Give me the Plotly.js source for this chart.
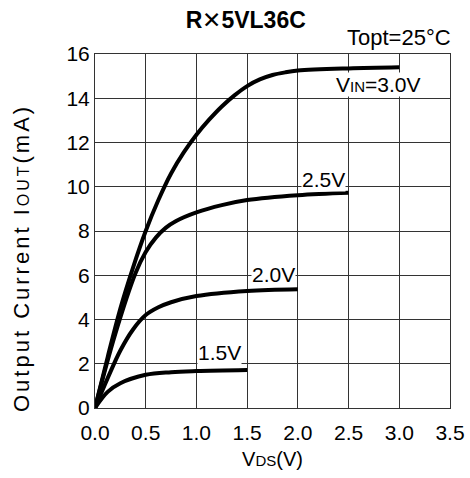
<!DOCTYPE html>
<html><head><meta charset="utf-8">
<script src="https://cdn.plot.ly/plotly-3.0.1.min.js"></script>
<style>body{margin:0;background:#fff}#c{width:470px;height:478px}</style>
</head><body><div id="c"></div>
<script>
const vds30 = [0, 0.125, 0.25, 0.375, 0.5, 0.625, 0.75, 0.875, 1.0, 1.125, 1.25, 1.375, 1.5, 1.625, 1.75, 1.875, 2.0, 2.5, 3.0];
const iout30 = [0, 2.3, 4.5, 6.35, 8.0, 9.4, 10.6, 11.55, 12.35, 13.03, 13.63, 14.13, 14.55, 14.85, 15.05, 15.17, 15.25, 15.35, 15.4];
const vds25 = [0, 0.2, 0.4, 0.5, 0.6, 0.7, 0.8, 1.0, 1.25, 1.5, 2.0, 2.5];
const iout25 = [0, 3.35, 6.1, 7.05, 7.7, 8.15, 8.45, 8.84, 9.17, 9.4, 9.62, 9.73];
const vds20 = [0, 0.125, 0.25, 0.375, 0.5, 0.625, 0.75, 1.0, 1.5, 2.0];
const iout20 = [0, 1.35, 2.6, 3.55, 4.2, 4.55, 4.78, 5.06, 5.29, 5.37];
const vds15 = [0, 0.125, 0.25, 0.5, 0.75, 1.0, 1.5];
const iout15 = [0, 0.73, 1.12, 1.5, 1.62, 1.67, 1.72];
const labels = ['V<span style="font-size:15px">IN</span>=3.0V', '2.5V', '2.0V', '1.5V'];
const labelX = [2.79, 2.25, 1.76, 1.23];
const labelY = [14.64, 10.35, 6.05, 2.49];
const xTicks = [0, 0.5, 1.0, 1.5, 2.0, 2.5, 3.0, 3.5];
const xTickText = ['0.0','0.5','1.0','1.5','2.0','2.5','3.0','3.5'];
const yTicks = [0, 2, 4, 6, 8, 10, 12, 14, 16];
const yTitle = 'Output Current I<span style="font-size:16px">OUT</span>(mA)';

const F = 'Liberation Sans, Arial, sans-serif';
const line = {color:'#000', width:4, shape:'spline', smoothing:1};
const traces = [[vds30,iout30],[vds25,iout25],[vds20,iout20],[vds15,iout15]].map(([x,y]) => ({
  x, y, type:'scatter', mode:'lines', line, hoverinfo:'skip', showlegend:false, cliponaxis:false
}));
const annotations = labels.map((t,i) => ({
  x: labelX[i], y: labelY[i], xref:'x', yref:'y', text:t, showarrow:false,
  font:{family:F, size:21, color:'#000'}, bgcolor:'#fff', borderpad:0
}));
annotations.push({
  x: 1, y: 1, xref:'paper', yref:'paper', xanchor:'right', yanchor:'bottom', yshift:2, xshift:3,
  text:'Topt=25°C', showarrow:false, font:{family:F, size:22, color:'#000'}
});
// y axis title drawn as rotated annotation so it can sit where the reference has it
annotations.push({
  x: -0.2085, y: 0.4237, xref:'paper', yref:'paper', xanchor:'center', yanchor:'middle', textangle:-90,
  text:'<span style="letter-spacing:3px">' + yTitle + '</span>', showarrow:false,
  font:{family:F, size:22, color:'#000'}
});
const layout = {
  width:470, height:478,
  margin:{l:95, r:20, t:54, b:70},
  paper_bgcolor:'#fff', plot_bgcolor:'#fff',
  title:{text:'<b>R</b>✕<b>5VL36C</b>', x:0.523, xanchor:'center', y:0.959, yanchor:'middle', font:{family:F, size:23, color:'#000'}},
  xaxis:{range:[0,3.5], tickvals:xTicks, ticktext:xTickText, showgrid:true, gridcolor:'#333', gridwidth:1,
    zeroline:false, showline:true, linecolor:'#333', mirror:true, ticks:'', ticklen:0, ticklabelstandoff:6,
    tickfont:{family:F, size:21, color:'#000'},
    title:{text:'V<span style="font-size:15px">DS</span>(V)', font:{family:F, size:20, color:'#000'}, standoff:8}},
  yaxis:{range:[0,16], tickvals:yTicks, showgrid:true, gridcolor:'#333', gridwidth:1,
    zeroline:false, showline:true, linecolor:'#333', mirror:true, ticks:'', ticklen:0,
    tickfont:{family:F, size:21, color:'#000'}},
  annotations
};
Plotly.newPlot('c', traces, layout, {staticPlot:true, displayModeBar:false});
</script></body></html>
